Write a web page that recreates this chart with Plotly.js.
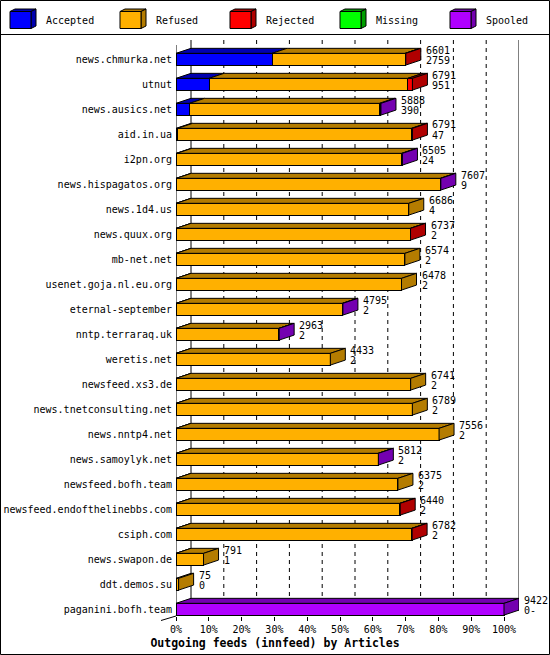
<!DOCTYPE html>
<html>
<head>
<meta charset="utf-8">
<script src="https://cdn.plot.ly/plotly-3.0.1.min.js"></script>
<style>
html,body{margin:0;padding:0;background:#fff;}
#chart{width:550px;height:655px;}
</style>
</head>
<body>
<div id="chart"></div>
<script>
// ---------- data ----------
const hosts = [
  "news.chmurka.net","utnut","news.ausics.net","aid.in.ua","i2pn.org",
  "news.hispagatos.org","news.1d4.us","news.quux.org","mb-net.net",
  "usenet.goja.nl.eu.org","eternal-september","nntp.terraraq.uk","weretis.net",
  "newsfeed.xs3.de","news.tnetconsulting.net","news.nntp4.net","news.samoylyk.net",
  "newsfeed.bofh.team","newsfeed.endofthelinebbs.com","csiph.com","news.swapon.de",
  "ddt.demos.su","paganini.bofh.team"
];
const offered  = [6601,6791,5888,6791,6505,7607,6686,6737,6574,6478,4795,2963,4433,6741,6789,7556,5812,6375,6440,6782,791,75,9422];
const accepted = [2759,951,390,47,24,9,4,2,2,2,2,2,2,2,2,2,2,2,2,2,1,0,0];
const refused  = [3822,5710,5458,6719,6459,7586,6682,6730,6572,6476,4777,2956,4431,6739,6787,7554,5805,6373,6428,6770,790,75,0];
const rejected = [20,130,0,25,0,0,0,5,0,0,0,0,0,0,0,0,0,0,10,10,0,0,0];
const missing  = [0,0,0,0,0,0,0,0,0,0,0,0,0,0,0,0,0,0,0,0,0,0,0];
const spooled  = [0,0,40,0,22,12,0,0,0,0,16,5,0,0,0,0,5,0,0,0,0,0,9422];
const offeredLabels  = offered.map(String);
const acceptedLabels = ["2759","951","390","47","24","9","4","2","2","2","2","2","2","2","2","2","2","2","2","2","1","0","0-"];

const seriesNames  = ["Accepted","Refused","Rejected","Missing","Spooled"];
const seriesColors = ["#0000FF","#FFB000","#FF0000","#00FF00","#B000FF"];
const seriesDark   = ["#0000B0","#B47C00","#B00000","#00A000","#7400B0"];
const xTickVals  = [0,10,20,30,40,50,60,70,80,90,100];
const xTickText  = ["0%","10%","20%","30%","40%","50%","60%","70%","80%","90%","100%"];
const chartTitle = "Outgoing feeds (innfeed) by Articles";

// ---------- geometry ----------
const W = 550, H = 655;
const L = 176, R = 519, T = 40, B = 616;      // plot box in px
const pxPerUnit = 3.28;                       // px per 1% on x
const depthPx = 15, depthPy = 5;              // 3D offset
const dxu = depthPx / pxPerUnit;
const rowPx = 25, firstCenter = 59.2;
const dyu = depthPy / rowPx;
const barW = 0.47;
const yTop = (T - firstCenter) / rowPx;
const yBot = (B - firstCenter) / rowPx;
const px2x = X => (X - L) / (R - L);
const px2y = Y => (B - Y) / (B - T);
const FONT = "DejaVu Sans Mono";

const maxOff = Math.max(...offered);
const pct = v => v / maxOff * 100;
const seriesVals = [accepted, refused, rejected, missing, spooled];
const yIdx = hosts.map((h, i) => i);

const traces = seriesVals.map((vals, s) => ({
  type: "bar", orientation: "h", name: seriesNames[s],
  y: yIdx, x: vals.map(pct), width: barW,
  marker: { color: seriesColors[s], line: { color: "#000", width: 1 } },
  hoverinfo: "skip", showlegend: false
}));

const shapes = [];
// dashed grid lines on back wall
xTickVals.slice(1, -1).forEach(v => {
  shapes.push({ type: "line", xref: "x", yref: "y", x0: v + dxu, x1: v + dxu, y0: yTop, y1: yBot - dyu,
    line: { color: "#000", width: 1, dash: "4px,4px" }, layer: "below" });
});
// back wall edges
[0, 100].forEach(v => {
  shapes.push({ type: "line", xref: "x", yref: "y", x0: v + dxu, x1: v + dxu, y0: yTop, y1: yBot - dyu,
    line: { color: "#000", width: 1 }, layer: "below" });
});

// 3D faces
hosts.forEach((h, i) => {
  const t = i - barW / 2, b = i + barW / 2;
  let cum = 0, last = -1;
  seriesVals.forEach((vals, s) => {
    const v = vals[i];
    if (v > 0) {
      const x0 = pct(cum), x1 = pct(cum + v);
      shapes.push({ type: "path", xref: "x", yref: "y",
        path: `M${x0},${t} L${x0 + dxu},${t - dyu} L${x1 + dxu},${t - dyu} L${x1},${t} Z`,
        fillcolor: seriesDark[s], line: { color: "#000", width: 1 } });
      cum += v; last = s;
    }
  });
  if (last >= 0) {
    const xe = pct(cum);
    shapes.push({ type: "path", xref: "x", yref: "y",
      path: `M${xe},${t} L${xe + dxu},${t - dyu} L${xe + dxu},${b - dyu} L${xe},${b} Z`,
      fillcolor: seriesDark[last], line: { color: "#000", width: 1 } });
  }
});

// front axes
shapes.push({ type: "line", xref: "x", yref: "y", x0: 0, x1: 0, y0: yTop + dyu, y1: yBot, line: { color: "#000", width: 1 } });
shapes.push({ type: "line", xref: "x", yref: "y", x0: 0, x1: 100, y0: yBot, y1: yBot, line: { color: "#000", width: 1 } });
shapes.push({ type: "line", xref: "paper", yref: "paper", x0: px2x(161), y0: px2y(620.5), x1: px2x(176), y1: px2y(616), line: { color: "#000", width: 1 } });

// separator + frame
shapes.push({ type: "line", xref: "paper", yref: "paper", x0: px2x(0), x1: px2x(550), y0: px2y(34.5), y1: px2y(34.5), line: { color: "#000", width: 1 } });
shapes.push({ type: "rect", xref: "paper", yref: "paper", x0: px2x(0.5), x1: px2x(549.5), y0: px2y(0.5), y1: px2y(654.5), line: { color: "#000", width: 1 } });

const annotations = [];
// legend cubes
seriesNames.forEach((n, s) => {
  const cx = 10 + 110 * s;
  const f = (X, Y) => `${px2x(X)},${px2y(Y)}`;
  shapes.push({ type: "path", xref: "paper", yref: "paper",
    path: `M${f(cx, 11.5)} L${f(cx + 5, 9)} L${f(cx + 26, 9)} L${f(cx + 21, 11.5)} Z`,
    fillcolor: seriesDark[s], line: { color: "#000", width: 1 } });
  shapes.push({ type: "path", xref: "paper", yref: "paper",
    path: `M${f(cx + 21, 11.5)} L${f(cx + 26, 9)} L${f(cx + 26, 26)} L${f(cx + 21, 28.5)} Z`,
    fillcolor: seriesDark[s], line: { color: "#000", width: 1 } });
  shapes.push({ type: "rect", xref: "paper", yref: "paper",
    x0: px2x(cx), x1: px2x(cx + 21), y0: px2y(28.5), y1: px2y(11.5),
    fillcolor: seriesColors[s], line: { color: "#000", width: 1 } });
  annotations.push({ xref: "paper", yref: "paper", x: px2x(cx + 34), y: px2y(20.5),
    xanchor: "left", yanchor: "middle", text: n, showarrow: false,
    font: { family: FONT, size: 10, color: "#000" } });
});

// value labels
hosts.forEach((h, i) => {
  const xe = pct(offered[i]) + dxu;
  annotations.push({ xref: "x", yref: "y", x: xe, y: i, xanchor: "left", yanchor: "middle",
    xshift: 3, yshift: 9.2, text: offeredLabels[i], showarrow: false,
    font: { family: FONT, size: 10, color: "#000" } });
  annotations.push({ xref: "x", yref: "y", x: xe, y: i, xanchor: "left", yanchor: "middle",
    xshift: 3, yshift: -1.5, text: acceptedLabels[i], showarrow: false,
    font: { family: FONT, size: 10, color: "#000" } });
});

const layout = {
  width: W, height: H,
  margin: { l: L, r: W - R, t: T, b: H - B, pad: 0 },
  paper_bgcolor: "#fff", plot_bgcolor: "#fff",
  barmode: "stack", bargap: 0, showlegend: false,
  font: { family: FONT, size: 10, color: "#000" },
  title: { text: chartTitle, font: { family: FONT, size: 11.5, weight: "bold", color: "#000" },
    x: 0.5, xanchor: "center", y: 1 - 643 / H, yanchor: "middle", xref: "container", yref: "container" },
  xaxis: { range: [0, 100 + dxu], tickvals: xTickVals, ticktext: xTickText,
    ticks: "outside", ticklen: 4, tickcolor: "#000", tickwidth: 1,
    showgrid: false, zeroline: false, showline: false, fixedrange: true,
    tickfont: { family: FONT, size: 10, color: "#000" } },
  yaxis: { range: [yBot, yTop], tickvals: yIdx, ticktext: hosts, ticks: "",
    ticklabelstandoff: 3,
    showgrid: false, zeroline: false, showline: false, fixedrange: true,
    tickfont: { family: FONT, size: 10, color: "#000" } },
  shapes: shapes, annotations: annotations
};

Plotly.newPlot("chart", traces, layout, { displayModeBar: false, staticPlot: true });
</script>
</body>
</html>
